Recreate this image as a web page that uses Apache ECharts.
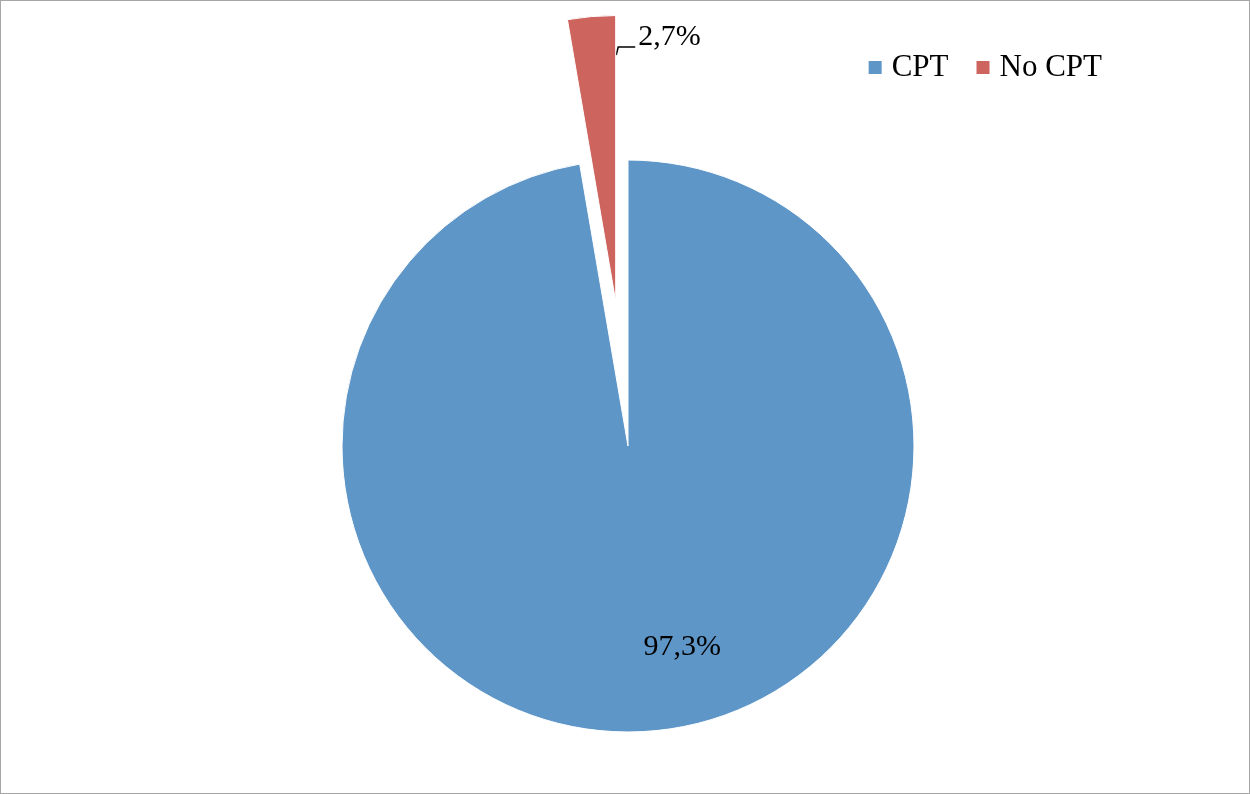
<!DOCTYPE html>
<html>
<head>
<meta charset="utf-8">
<script src="https://cdn.jsdelivr.net/npm/echarts@6/dist/echarts.min.js"></script>
<style>
html,body{margin:0;padding:0;background:#fff;}
#chart{position:absolute;left:0;top:0;width:1248px;height:792px;border:1px solid #a6a6a6;border-right-width:2px;border-bottom-width:2px;box-sizing:content-box;}
</style>
</head>
<body>
<div id="chart"></div>
<script>
const categories = ['CPT', 'No CPT'];
const values = [97.3, 2.7];
const labels = ['97,3%', '2,7%'];
const colors = ['#5f96c8', '#cd645e'];

const chart = echarts.init(document.getElementById('chart'), null, {renderer: 'canvas'});
const font = '"Liberation Serif", "Times New Roman", serif';

chart.setOption({
  animation: false,
  legend: {
    data: categories,
    right: 147,
    top: 45,
    padding: 0,
    itemWidth: 15,
    itemHeight: 15,
    itemGap: 26,
    icon: 'rect',
    textStyle: {fontFamily: font, fontSize: 31, color: '#000', lineHeight: 36, padding: [7, 0, 0, 4]}
  },
  series: [{
    type: 'pie',
    center: [627, 445],
    radius: [0, 286],
    startAngle: 90,
    clockwise: true,
    selectedMode: 'single',
    selectedOffset: 145,
    avoidLabelOverlap: false,
    itemStyle: {borderColor: '#fff', borderWidth: 1},
    data: categories.map((c, i) => ({
      name: c,
      value: values[i],
      selected: i === 1,
      itemStyle: {color: colors[i]},
      label: i === 0
        ? {show: true, position: 'inside', formatter: labels[i], fontFamily: font, fontSize: 30, color: '#000'}
        : {show: true, position: 'outside', formatter: labels[i], fontFamily: font, fontSize: 30, color: '#000'},
      labelLine: i === 0 ? {show: false} : {show: true, length: 4, length2: 14, smooth: false, lineStyle: {color: '#000', width: 1.5}}
    })),
    labelLayout: function (params) {
      if (params.dataIndex === 0) {
        return {dx: 42, dy: 56};
      }
      const r = params.rect;
      const lr = params.labelRect;
      const R = r.x + r.width;
      return {
        dx: (R + 22) - lr.x,
        dy: (r.y + 22) - (lr.y + lr.height / 2),
        labelLinePoints: [[R, r.y + 40], [R + 2, r.y + 32], [R + 19, r.y + 32]]
      };
    }
  }]
});
</script>
</body>
</html>
